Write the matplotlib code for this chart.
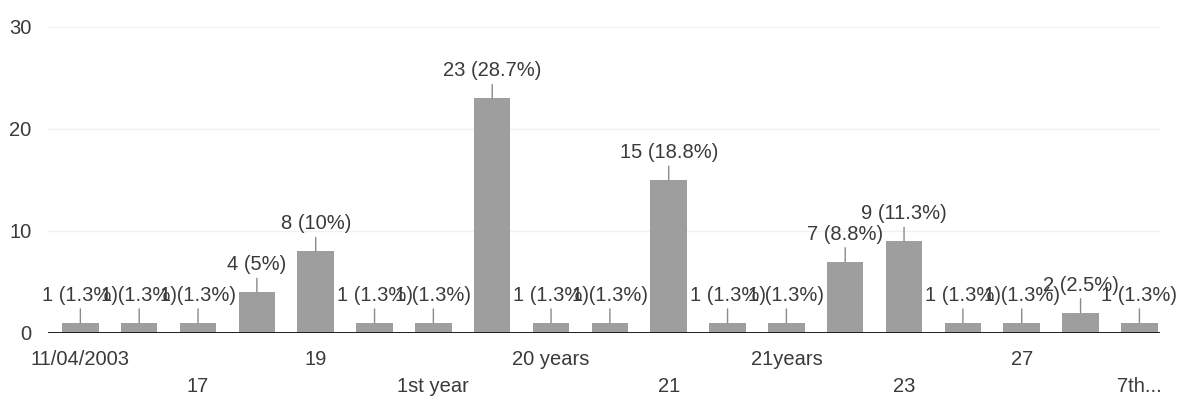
import matplotlib.pyplot as plt

# answers in the order Google Forms lists them; hidden labels left empty
categories = ['11/04/2003', '', '17', '', '19', '', '1st year', '', '20 years', '',
              '21', '', '21years', '', '23', '', '27', '', '7th...']
counts = [1, 1, 1, 4, 8, 1, 1, 23, 1, 1, 15, 1, 1, 7, 9, 1, 1, 2, 1]
percents = ['1.3%', '1.3%', '1.3%', '5%', '10%', '1.3%', '1.3%', '28.7%', '1.3%', '1.3%',
            '18.8%', '1.3%', '1.3%', '8.8%', '11.3%', '1.3%', '1.3%', '2.5%', '1.3%']
yticks = [0, 10, 20, 30]

plt.rcParams['font.family'] = ['Liberation Sans', 'DejaVu Sans']
text_col = '#3a3a3a'
fs = 14.5

fig = plt.figure(figsize=(11.84, 4.16), dpi=100)
ax = fig.add_axes([48 / 1184, 1 - 333 / 416, (1160 - 48) / 1184, (333 - 27) / 416])

x = list(range(len(counts)))
ax.bar(x, counts, width=0.62, color='#9e9e9e', zorder=2)
ax.axhline(0, color='#1e1e1e', lw=1.4, zorder=3)

for i, (c, p) in enumerate(zip(counts, percents)):
    ax.annotate(f'{c} ({p})', xy=(i, c), xytext=(0, 13), textcoords='offset points',
                ha='center', va='bottom', fontsize=fs, color=text_col,
                arrowprops=dict(arrowstyle='-', color='#8a8a8a', lw=1,
                                shrinkA=1, shrinkB=0), zorder=4)

# staggered category labels, two rows
row = 0
for i, lab in enumerate(categories):
    if not lab:
        continue
    dy = -12 if row == 0 else -32
    ax.annotate(lab, xy=(i, 0), xycoords=('data', 'axes fraction'),
                xytext=(0, dy), textcoords='offset points',
                ha='center', va='top', fontsize=fs, color=text_col)
    row = 1 - row

ax.set_xlim(-0.55, 18.35)
ax.set_ylim(0, 30)
ax.set_xticks([])
ax.set_yticks(yticks)
ax.tick_params(axis='y', length=0, pad=12, labelsize=fs, labelcolor=text_col)
for s in ax.spines.values():
    s.set_visible(False)
for t in yticks[1:]:
    ax.axhline(t, color='#f0f0f0', lw=1, zorder=1)

fig.savefig('out.png', dpi=100, facecolor='white')
